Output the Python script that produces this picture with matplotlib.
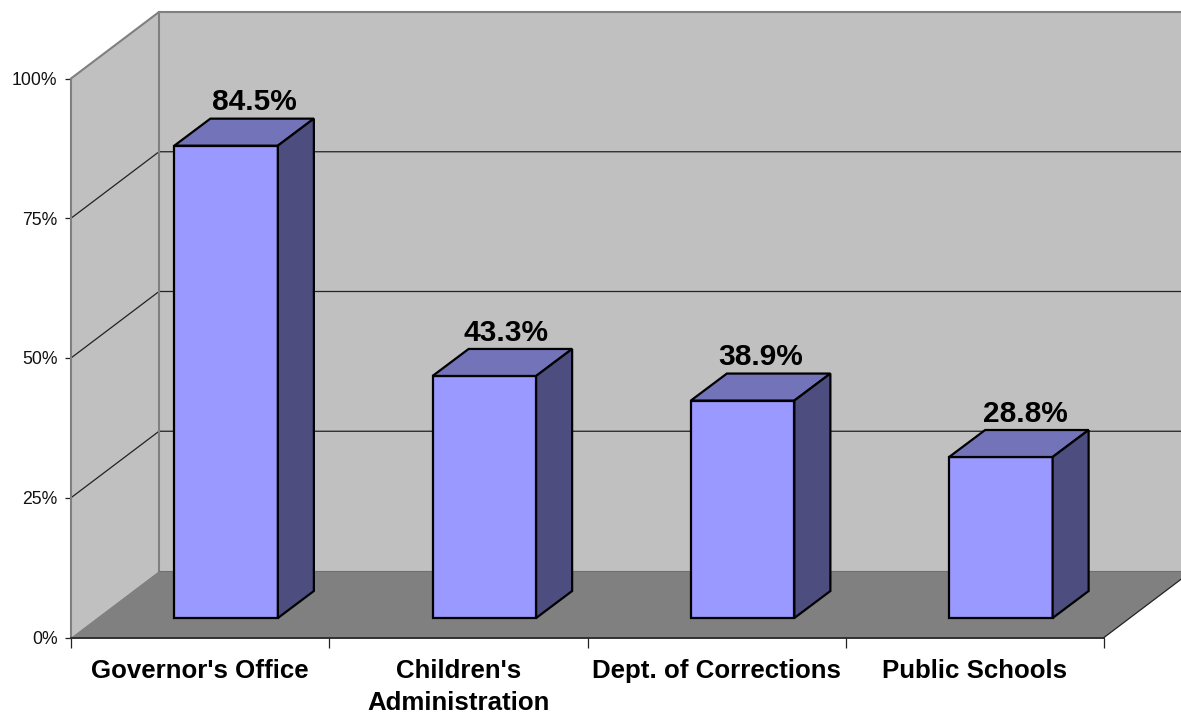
import matplotlib
matplotlib.use('Agg')
import matplotlib.pyplot as plt
from matplotlib.patches import Polygon

plt.rcParams['font.family'] = ['Liberation Sans', 'DejaVu Sans']

categories = ["Governor's Office", "Children's\nAdministration", "Dept. of Corrections", "Public Schools"]
values = [84.5, 43.3, 38.9, 28.8]
value_labels = ['84.5%', '43.3%', '38.9%', '28.8%']
y_ticks = [0, 25, 50, 75, 100]
y_tick_labels = ['0%', '25%', '50%', '75%', '100%']

W, H = 1181, 714
fig = plt.figure(figsize=(W / 100, H / 100), dpi=100, facecolor='white')
# axes is the front plane of the 3d box
left, right, bottom, top = 71, 1104, 637.5, 78.5
ax = fig.add_axes([left / W, 1 - bottom / H, (right - left) / W, (bottom - top) / H])
ax.set_xlim(0, 4)
ax.set_ylim(0, 100)

px_x = 4 / (right - left)  # data units per pixel
px_y = 100 / (bottom - top)
depth_x = 88 * px_x
depth_y = 66.5 * px_y
bar_dx = 36 * px_x
bar_dy = 27 * px_y
bar_off_x = 26 * px_x  # bar front is set back from the axes front
bar_off_y = 19.5 * px_y
bar_w = 103.5 * px_x
label_nudge = [10, 4, 0.5, 6]  # value labels are not quite centred in the original, pixels


def poly(points, fc, ec='none', lw=0, z=1):
    ax.add_patch(Polygon(points, closed=True, facecolor=fc, edgecolor=ec, linewidth=lw,
                         zorder=z, clip_on=False, joinstyle='miter'))


# walls and floor
poly([(depth_x, depth_y), (4 + depth_x, depth_y), (4 + depth_x, 100 + depth_y), (depth_x, 100 + depth_y)], '#c0c0c0')
poly([(0, 0), (depth_x, depth_y), (depth_x, 100 + depth_y), (0, 100)], '#c0c0c0')
poly([(0, 0), (4, 0), (4 + depth_x, depth_y), (depth_x, depth_y)], '#808080')

# gridlines
for t in y_ticks[1:-1]:
    ax.plot([0, depth_x, 4 + depth_x], [t, t + depth_y, t + depth_y], color='#222222', lw=0.9, zorder=2, clip_on=False)
ax.plot([0, depth_x, 4 + depth_x], [100, 100 + depth_y, 100 + depth_y], color='#808080', lw=1.5, zorder=2, clip_on=False)
ax.plot([depth_x, depth_x], [depth_y, 100 + depth_y], color='#808080', lw=1.5, zorder=2, clip_on=False)
ax.plot([depth_x, 4 + depth_x], [depth_y, depth_y], color='#707070', lw=0.8, zorder=2, clip_on=False)
ax.plot([4, 4 + depth_x], [0, depth_y], color='#222222', lw=0.9, zorder=2, clip_on=False)

# bars
for i, v in enumerate(values):
    x0 = i + 0.5 - bar_w / 2 + bar_off_x
    x1 = x0 + bar_w
    y0 = bar_off_y
    y1 = bar_off_y + v
    poly([(x0, y0), (x1, y0), (x1, y1), (x0, y1)], '#9999ff', 'black', 1.6, 3)
    poly([(x0, y1), (x1, y1), (x1 + bar_dx, y1 + bar_dy), (x0 + bar_dx, y1 + bar_dy)], '#7373b9', 'black', 1.6, 3)
    poly([(x1, y0), (x1 + bar_dx, y0 + bar_dy), (x1 + bar_dx, y1 + bar_dy), (x1, y1)], '#4d4d7f', 'black', 1.6, 3)
    ax.text((x0 + x1 + bar_dx) / 2 + label_nudge[i] * px_x, y1 + bar_dy + 2.4 * px_y, value_labels[i], ha='center', va='bottom',
            fontsize=21.5, fontweight='bold', color='black', zorder=4)

# axes
for s in ['top', 'right']:
    ax.spines[s].set_visible(False)
ax.spines['left'].set_color('#808080')
ax.spines['left'].set_linewidth(1.5)
ax.spines['left'].set_zorder(2)
ax.spines['bottom'].set_color('#222222')
ax.spines['bottom'].set_linewidth(1.3)
ax.patch.set_visible(False)

ax.set_yticks(y_ticks)
ax.set_yticklabels(y_tick_labels, fontsize=12.7, color='#111111')
ax.tick_params(axis='y', length=4.5, width=0.9, pad=5.2, color='#222222')
ax.set_xticks([0, 1, 2, 3, 4])
ax.set_xticklabels([])
ax.tick_params(axis='x', length=7.5, width=0.9, color='#222222')
for i, c in enumerate(categories):
    ax.annotate(c, xy=(i + 0.5, 0), xytext=(0, -15.5), textcoords='offset points', ha='center', va='top',
                fontsize=18.6, fontweight='bold', color='black', linespacing=1.42, annotation_clip=False)

fig.savefig('out.png', dpi=100)
